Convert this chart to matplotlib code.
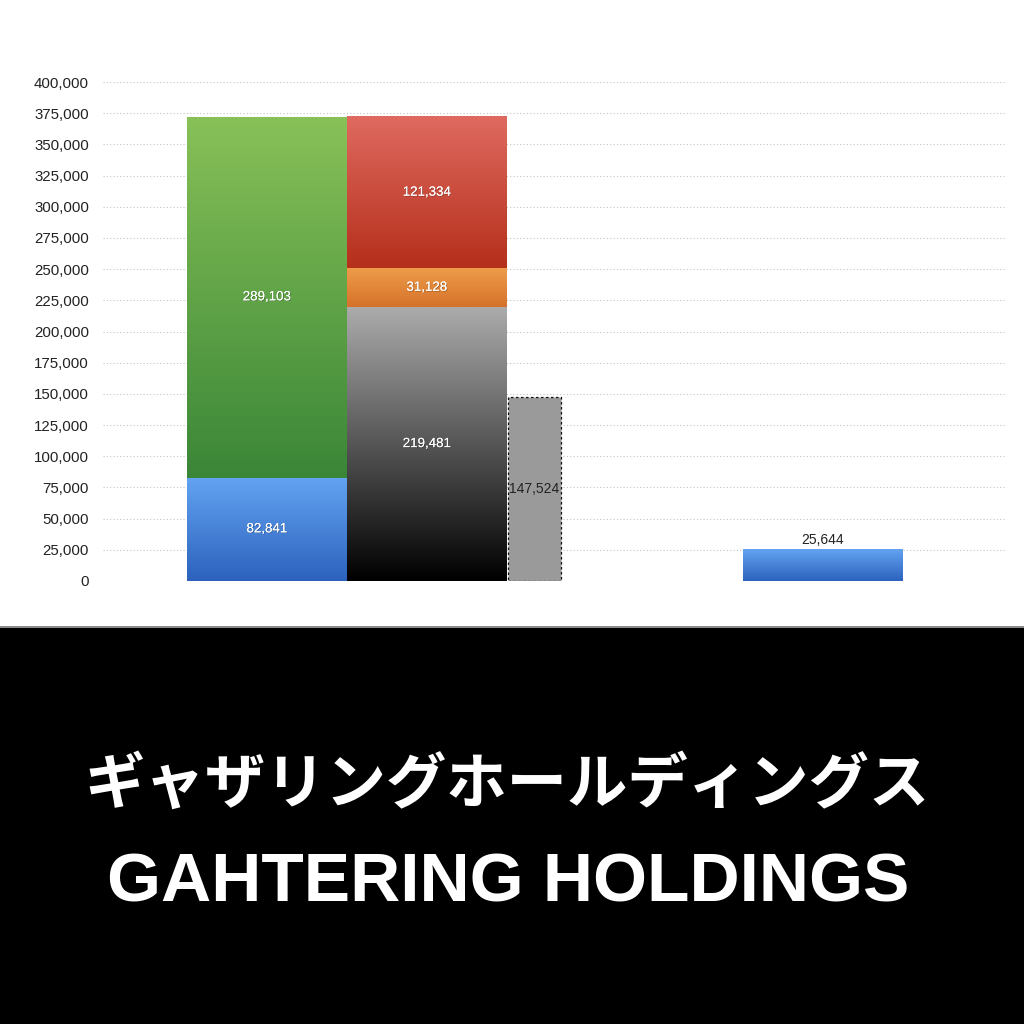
import numpy as np
import matplotlib
matplotlib.use("Agg")
import matplotlib.pyplot as plt
from matplotlib.colors import LinearSegmentedColormap
from matplotlib.patches import Rectangle
import matplotlib.patheffects as pe

# ---- data ----
seg_names = ["blue1", "green", "black", "orange", "red", "gray", "blue2"]
seg_bar = [0, 0, 1, 1, 1, 2, 3]          # which bar slot
seg_values = [82841, 289103, 219481, 31128, 121334, 147524, 25644]
seg_labels = ["82,841", "289,103", "219,481", "31,128", "121,334", "147,524", "25,644"]
y_ticks = list(range(0, 400001, 25000))
y_tick_labels = [f"{v:,}" for v in y_ticks]
title_jp = "ギャザリングホールディングス"
title_en = "GAHTERING HOLDINGS"

# ---- styles ----
bar_left = [0.525, 1.525, 2.531, 4.0]
bar_width = [1.0, 1.0, 0.331, 1.0]
grad = {
    "blue1": ("#63a3f2", "#2c62bd"),
    "green": ("#88c158", "#3a8637"),
    "black": ("#ababab", "#000000"),
    "orange": ("#ed9c4a", "#d6722a"),
    "red": ("#df6a60", "#b52f1b"),
    "blue2": ("#63a3f2", "#2c62bd"),
}
label_color = {"gray": "#222222", "blue2": "#222222"}

fig = plt.figure(figsize=(10.24, 10.24), dpi=100)
fig.patch.set_facecolor("white")
# black band + separator line
fig.patches.append(Rectangle((0, 0), 1, 1 - 628 / 1024, transform=fig.transFigure,
                             facecolor="black", edgecolor="none", zorder=0))
fig.patches.append(Rectangle((0, 1 - 628 / 1024), 1, 2 / 1024, transform=fig.transFigure,
                             facecolor="#8a8a8a", edgecolor="none", zorder=0))

ax = fig.add_axes([103 / 1024, 1 - 581 / 1024, 902 / 1024, 499 / 1024])
ax.set_xlim(0, 902 / 160)
ax.set_ylim(0, 400000)
for s in ax.spines.values():
    s.set_visible(False)
ax.set_xticks([])
ax.set_yticks(y_ticks)
ax.set_yticklabels(y_tick_labels, fontsize=10.8, color="#222222", family="Liberation Sans")
ax.tick_params(axis="y", length=0, pad=10)
ax.set_axisbelow(True)
ax.grid(axis="y", linestyle=(0, (1, 2)), color="#c4c4c4", linewidth=0.8)

bottoms = {}
for name, b, v, lab in zip(seg_names, seg_bar, seg_values, seg_labels):
    bottom = bottoms.get(b, 0)
    bottoms[b] = bottom + v
    left = bar_left[b]
    w = bar_width[b]
    if name == "gray":
        rect = ax.bar(left, v, width=w, bottom=bottom, align="edge",
                      facecolor="#9a9a9a", edgecolor="#111111",
                      linestyle=(0, (2, 2)), linewidth=0.9, zorder=2)[0]
    else:
        rect = ax.bar(left, v, width=w, bottom=bottom, align="edge",
                      facecolor=grad[name][1], edgecolor="none", zorder=2)[0]
        top_c, bot_c = grad[name]
        cmap = LinearSegmentedColormap.from_list(name, [bot_c, top_c])
        g = np.linspace(0, 1, 256).reshape(-1, 1)
        ax.imshow(g, cmap=cmap, origin="lower", aspect="auto",
                  extent=[rect.get_x(), rect.get_x() + rect.get_width(),
                          rect.get_y(), rect.get_y() + rect.get_height()],
                  zorder=2.1, interpolation="bilinear")
    cx = rect.get_x() + rect.get_width() / 2
    col = label_color.get(name, "white")
    if name == "blue2":
        ax.text(cx, bottom + v + 2000, lab, ha="center", va="bottom",
                fontsize=10, color=col, family="Liberation Sans", zorder=3)
    else:
        t = ax.text(cx, bottom + v / 2, lab, ha="center", va="center",
                    fontsize=10 if col != "white" else 9.6, color=col,
                    family="Liberation Sans", zorder=3)
        if col == "white":
            t.set_path_effects([pe.withSimplePatchShadow(offset=(0.5, -0.5),
                                                         shadow_rgbFace="#000000", alpha=0.35),
                                pe.Normal()])

ax.set_xlim(0, 902 / 160)
ax.set_ylim(0, 400000)

fig.text(507 / 1024, 1 - 785 / 1024, title_jp, ha="center", va="center",
         fontsize=43.5, fontweight="bold", color="white",
         family=["Noto Sans CJK JP", "DejaVu Sans"])
fig.text(508 / 1024, 1 - 884 / 1024, title_en, ha="center", va="center",
         fontsize=50, fontweight="bold", color="white",
         family=["Liberation Sans", "DejaVu Sans"])

fig.savefig("out.png", dpi=100, facecolor=fig.get_facecolor())
